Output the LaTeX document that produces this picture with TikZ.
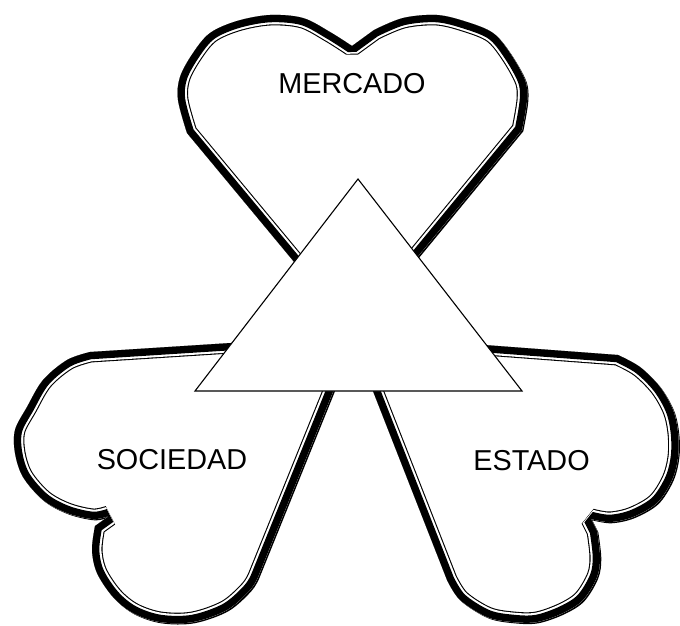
\documentclass[tikz,border=0pt]{standalone}
\usepackage{fontspec}
\setmainfont{Liberation Sans}
\begin{document}
\begin{tikzpicture}[x=1pt,y=-1pt,
  label/.style={inner sep=0pt,font=\fontsize{28.8}{34}\selectfont},
  tri/.style={draw=black,fill=white,line width=1.1pt,line join=miter},
  band/.style={line join=bevel}]
\useasboundingbox (0,0) rectangle (680,626);
\newcommand\drawheart[1]{%
  \fill[black,shift={(1.3,1.3)}] #1;
  \fill[white] #1;
  \begin{scope}
    \clip #1;
    \draw[band,black,line width=21pt] #1;
    \draw[band,white,line width=18.8pt] #1;
    \draw[band,black,line width=14.6pt] #1;
  \end{scope}}
% top heart (MERCADO)
\def\heartTop{(354,334) -- plot[smooth,tension=0.55] coordinates {(187,133) (178,100) (180,77) (193,53) (210,33) (237,21) (270,15) (303,18) (330,32) (352,46)}
  -- plot[smooth,tension=0.55] coordinates {(374,30) (403,18) (437,15) (467,22) (493,33) (510,53) (525,80) (527,100) (522,130)} -- cycle}
% left heart (SOCIEDAD)
\def\heartLeft{(356,335) -- plot[smooth,tension=0.55] coordinates {(90,352) (67,360) (43,380) (27,407) (15,430) (15,453) (23,477) (43,500) (67,513) (93,519) (109,516)}
  -- plot[smooth,tension=0.55] coordinates {(95,526) (92,550) (97,573) (113,597) (133,613) (160,622) (193,622) (227,610) (250,590) (258,577)} -- cycle}
% right heart (ESTADO)
\def\heartRight{(351,335) -- plot[smooth,tension=0.55] coordinates {(618,355) (640,367) (660,387) (673,410) (678,433) (678,457) (672,480) (657,503) (633,517) (610,522) (591,519)}
  -- plot[smooth,tension=0.55] coordinates {(597,531) (600,557) (597,577) (583,600) (563,613) (537,622) (513,622) (487,617) (460,600) (447,580)} -- cycle}
\drawheart{\heartTop}
\drawheart{\heartLeft}
\drawheart{\heartRight}
% triangle
\coordinate (apex) at (358,179);
\coordinate (bl) at (195,391);
\coordinate (br) at (522,391);
\draw[tri] (apex) -- (br) -- (bl) -- cycle;
% labels
\node[label] (mercado) at (352,84) {MERCADO};
\node[label] (sociedad) at (172,460) {SOCIEDAD};
\node[label] (estado) at (531.5,460.5) {ESTADO};
\end{tikzpicture}
\end{document}
